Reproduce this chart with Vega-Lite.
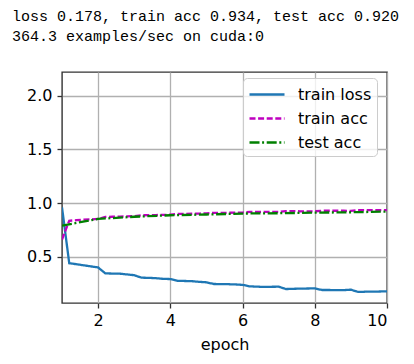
{
  "$schema": "https://vega.github.io/schema/vega-lite/v6.json",
  "width": 325,
  "height": 231,
  "autosize": {"type": "none"},
  "padding": {"left": 62, "top": 72, "right": 27, "bottom": 61},
  "background": "white",
  "title": {
    "text": ["loss 0.178, train acc 0.934, test acc 0.920", "364.3 examples/sec on cuda:0"],
    "anchor": "start",
    "frame": "group",
    "dx": -50,
    "offset": 16,
    "font": "Liberation Mono",
    "fontSize": 15,
    "fontWeight": "normal",
    "color": "black",
    "lineHeight": 20,
    "baseline": "alphabetic"
  },
  "data": {
    "values": [
      {"epoch": 1.0, "value": 0.96, "series": "train loss"},
      {"epoch": 1.2, "value": 0.44, "series": "train loss"},
      {"epoch": 1.4, "value": 0.43, "series": "train loss"},
      {"epoch": 1.6, "value": 0.42, "series": "train loss"},
      {"epoch": 1.8, "value": 0.41, "series": "train loss"},
      {"epoch": 2.0, "value": 0.40, "series": "train loss"},
      {"epoch": 2.2, "value": 0.345, "series": "train loss"},
      {"epoch": 2.4, "value": 0.343, "series": "train loss"},
      {"epoch": 2.6, "value": 0.342, "series": "train loss"},
      {"epoch": 2.8, "value": 0.335, "series": "train loss"},
      {"epoch": 3.0, "value": 0.328, "series": "train loss"},
      {"epoch": 3.2, "value": 0.305, "series": "train loss"},
      {"epoch": 3.4, "value": 0.303, "series": "train loss"},
      {"epoch": 3.6, "value": 0.300, "series": "train loss"},
      {"epoch": 3.8, "value": 0.294, "series": "train loss"},
      {"epoch": 4.0, "value": 0.292, "series": "train loss"},
      {"epoch": 4.2, "value": 0.276, "series": "train loss"},
      {"epoch": 4.4, "value": 0.274, "series": "train loss"},
      {"epoch": 4.6, "value": 0.272, "series": "train loss"},
      {"epoch": 4.8, "value": 0.266, "series": "train loss"},
      {"epoch": 5.0, "value": 0.262, "series": "train loss"},
      {"epoch": 5.2, "value": 0.246, "series": "train loss"},
      {"epoch": 5.4, "value": 0.245, "series": "train loss"},
      {"epoch": 5.6, "value": 0.244, "series": "train loss"},
      {"epoch": 5.8, "value": 0.242, "series": "train loss"},
      {"epoch": 6.0, "value": 0.238, "series": "train loss"},
      {"epoch": 6.2, "value": 0.224, "series": "train loss"},
      {"epoch": 6.4, "value": 0.221, "series": "train loss"},
      {"epoch": 6.6, "value": 0.219, "series": "train loss"},
      {"epoch": 6.8, "value": 0.220, "series": "train loss"},
      {"epoch": 7.0, "value": 0.221, "series": "train loss"},
      {"epoch": 7.2, "value": 0.199, "series": "train loss"},
      {"epoch": 7.4, "value": 0.201, "series": "train loss"},
      {"epoch": 7.6, "value": 0.203, "series": "train loss"},
      {"epoch": 7.8, "value": 0.204, "series": "train loss"},
      {"epoch": 8.0, "value": 0.205, "series": "train loss"},
      {"epoch": 8.2, "value": 0.190, "series": "train loss"},
      {"epoch": 8.4, "value": 0.190, "series": "train loss"},
      {"epoch": 8.6, "value": 0.189, "series": "train loss"},
      {"epoch": 8.8, "value": 0.189, "series": "train loss"},
      {"epoch": 9.0, "value": 0.193, "series": "train loss"},
      {"epoch": 9.2, "value": 0.172, "series": "train loss"},
      {"epoch": 9.4, "value": 0.174, "series": "train loss"},
      {"epoch": 9.6, "value": 0.175, "series": "train loss"},
      {"epoch": 9.8, "value": 0.176, "series": "train loss"},
      {"epoch": 10.0, "value": 0.178, "series": "train loss"},
      {"epoch": 1.0, "value": 0.66, "series": "train acc"},
      {"epoch": 1.2, "value": 0.835, "series": "train acc"},
      {"epoch": 1.4, "value": 0.840, "series": "train acc"},
      {"epoch": 1.6, "value": 0.845, "series": "train acc"},
      {"epoch": 1.8, "value": 0.848, "series": "train acc"},
      {"epoch": 2.0, "value": 0.852, "series": "train acc"},
      {"epoch": 2.2, "value": 0.870, "series": "train acc"},
      {"epoch": 2.4, "value": 0.872, "series": "train acc"},
      {"epoch": 2.6, "value": 0.873, "series": "train acc"},
      {"epoch": 2.8, "value": 0.876, "series": "train acc"},
      {"epoch": 3.0, "value": 0.878, "series": "train acc"},
      {"epoch": 3.2, "value": 0.886, "series": "train acc"},
      {"epoch": 3.4, "value": 0.887, "series": "train acc"},
      {"epoch": 3.6, "value": 0.888, "series": "train acc"},
      {"epoch": 3.8, "value": 0.890, "series": "train acc"},
      {"epoch": 4.0, "value": 0.891, "series": "train acc"},
      {"epoch": 4.2, "value": 0.898, "series": "train acc"},
      {"epoch": 4.4, "value": 0.899, "series": "train acc"},
      {"epoch": 4.6, "value": 0.900, "series": "train acc"},
      {"epoch": 4.8, "value": 0.902, "series": "train acc"},
      {"epoch": 5.0, "value": 0.903, "series": "train acc"},
      {"epoch": 5.2, "value": 0.908, "series": "train acc"},
      {"epoch": 5.4, "value": 0.909, "series": "train acc"},
      {"epoch": 5.6, "value": 0.909, "series": "train acc"},
      {"epoch": 5.8, "value": 0.910, "series": "train acc"},
      {"epoch": 6.0, "value": 0.911, "series": "train acc"},
      {"epoch": 6.2, "value": 0.917, "series": "train acc"},
      {"epoch": 6.4, "value": 0.917, "series": "train acc"},
      {"epoch": 6.6, "value": 0.918, "series": "train acc"},
      {"epoch": 6.8, "value": 0.918, "series": "train acc"},
      {"epoch": 7.0, "value": 0.918, "series": "train acc"},
      {"epoch": 7.2, "value": 0.924, "series": "train acc"},
      {"epoch": 7.4, "value": 0.924, "series": "train acc"},
      {"epoch": 7.6, "value": 0.923, "series": "train acc"},
      {"epoch": 7.8, "value": 0.923, "series": "train acc"},
      {"epoch": 8.0, "value": 0.923, "series": "train acc"},
      {"epoch": 8.2, "value": 0.928, "series": "train acc"},
      {"epoch": 8.4, "value": 0.928, "series": "train acc"},
      {"epoch": 8.6, "value": 0.928, "series": "train acc"},
      {"epoch": 8.8, "value": 0.928, "series": "train acc"},
      {"epoch": 9.0, "value": 0.927, "series": "train acc"},
      {"epoch": 9.2, "value": 0.934, "series": "train acc"},
      {"epoch": 9.4, "value": 0.933, "series": "train acc"},
      {"epoch": 9.6, "value": 0.933, "series": "train acc"},
      {"epoch": 9.8, "value": 0.933, "series": "train acc"},
      {"epoch": 10.0, "value": 0.934, "series": "train acc"},
      {"epoch": 1, "value": 0.79, "series": "test acc"},
      {"epoch": 2, "value": 0.852, "series": "test acc"},
      {"epoch": 3, "value": 0.872, "series": "test acc"},
      {"epoch": 4, "value": 0.886, "series": "test acc"},
      {"epoch": 5, "value": 0.893, "series": "test acc"},
      {"epoch": 6, "value": 0.902, "series": "test acc"},
      {"epoch": 7, "value": 0.905, "series": "test acc"},
      {"epoch": 8, "value": 0.910, "series": "test acc"},
      {"epoch": 9, "value": 0.914, "series": "test acc"},
      {"epoch": 10, "value": 0.920, "series": "test acc"}
    ]
  },
  "mark": {"type": "line", "strokeWidth": 2.3, "clip": true},
  "encoding": {
    "x": {
      "field": "epoch", "type": "quantitative",
      "scale": {"domain": [1, 10], "nice": false, "zero": false},
      "axis": {"title": "epoch", "values": [2, 4, 6, 8, 10], "format": "d", "labelPadding": 4, "titlePadding": 8}
    },
    "y": {
      "field": "value", "type": "quantitative",
      "scale": {"domain": [0.069, 2.22], "nice": false, "zero": false},
      "axis": {"title": null, "values": [0.5, 1.0, 1.5, 2.0], "format": ".1f", "labelPadding": 5}
    },
    "color": {
      "field": "series", "type": "nominal",
      "scale": {"domain": ["train loss", "train acc", "test acc"], "range": ["#1f77b4", "#bf00bf", "#008000"]},
      "legend": {"title": null}
    },
    "strokeDash": {
      "field": "series", "type": "nominal",
      "scale": {"domain": ["train loss", "train acc", "test acc"], "range": [[1, 0], [6, 2.6], [10, 2.6, 2, 2.6]]},
      "legend": {"title": null}
    }
  },
  "config": {
    "view": {"stroke": "#333333", "strokeWidth": 1.4},
    "axis": {
      "labelFont": "DejaVu Sans", "labelFontSize": 16, "labelColor": "black",
      "titleFont": "DejaVu Sans", "titleFontSize": 16, "titleFontWeight": "normal", "titleColor": "black",
      "domain": false, "tickColor": "#333333", "tickSize": 5, "tickWidth": 1.3,
      "grid": true, "gridColor": "#b0b0b0", "gridWidth": 1.3
    },
    "legend": {
      "orient": "none", "legendX": 181, "legendY": 6,
      "labelFont": "DejaVu Sans", "labelFontSize": 16, "labelColor": "black",
      "labelExpr": "datum.label + '\u00a0\u00a0'",
      "symbolType": "M-1.75,0H1.75", "symbolSize": 400, "symbolStrokeWidth": 2.3, "symbolOffset": 7.5,
      "labelOffset": 19.5, "rowPadding": 4, "padding": 5,
      "fillColor": "rgba(255,255,255,0.8)", "strokeColor": "#cccccc", "cornerRadius": 4
    }
  }
}
